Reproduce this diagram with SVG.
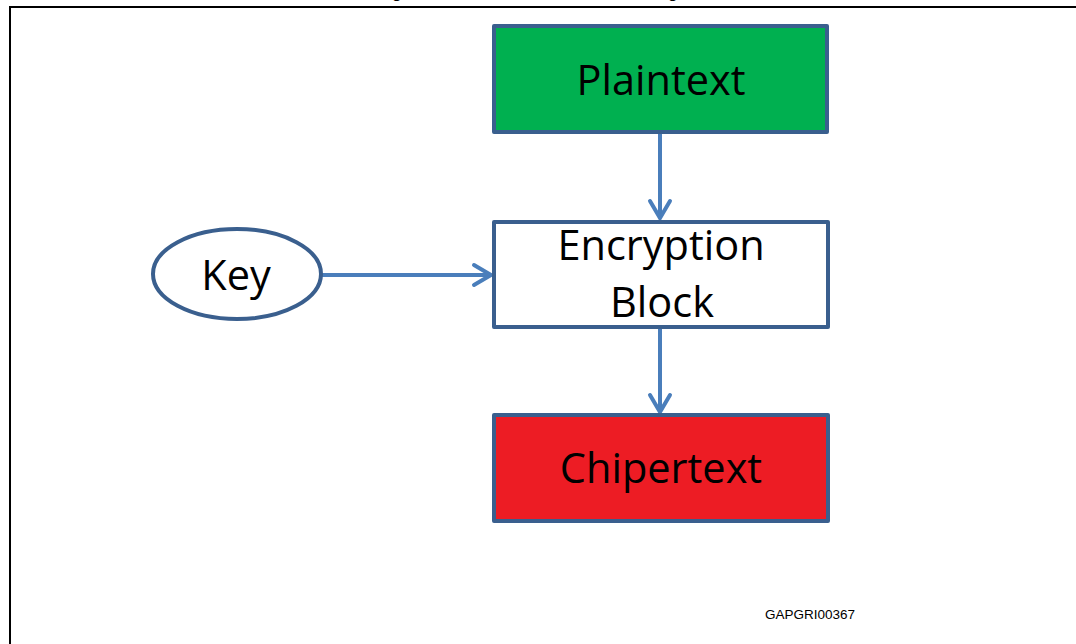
<svg xmlns="http://www.w3.org/2000/svg" width="1076" height="644" viewBox="0 0 1076 644">
  <style>
    .box { stroke: #3A5F8E; stroke-width: 4; stroke-linejoin: round; }
    .label { font-family: "Open Sans", "Liberation Sans", sans-serif; font-size: 41.5px; fill: #000; text-anchor: middle; }
    .wire { stroke: #4A7EBB; stroke-width: 4; fill: none; }
    .head { stroke: #4A7EBB; stroke-width: 4; fill: none; stroke-linecap: round; stroke-linejoin: miter; }
  </style>

  <rect width="1076" height="644" fill="#ffffff"/>

  <!-- frame -->
  <g id="frame">
    <line x1="10" y1="7" x2="1076" y2="7" stroke="#000" stroke-width="2"/>
    <line x1="10" y1="6" x2="10" y2="644" stroke="#000" stroke-width="2"/>
    <text x="397" y="-2" font-family="Liberation Sans, sans-serif" font-weight="bold" font-size="16" text-anchor="middle">g</text>
    <text x="673" y="-2" font-family="Liberation Sans, sans-serif" font-weight="bold" font-size="16" text-anchor="middle">g</text>
  </g>

  <!-- connectors -->
  <g id="connectors">
    <line class="wire" x1="660" y1="134" x2="660" y2="218"/>
    <polyline class="head" points="650,201 660,218 670,201"/>
    <line class="wire" x1="660" y1="329" x2="660" y2="411"/>
    <polyline class="head" points="650,395 660,412 670,395"/>
    <line class="wire" x1="322" y1="275" x2="490" y2="275"/>
    <polyline class="head" points="474,265 491,275 474,285"/>
  </g>

  <g id="plaintext">
    <rect class="box" x="494" y="26" width="333" height="106" fill="#00B050"/>
    <text class="label" x="661" y="95">Plaintext</text>
  </g>

  <g id="encryption">
    <rect class="box" x="494" y="222" width="334" height="105" fill="#ffffff"/>
    <text class="label" x="661" y="260">Encryption</text>
    <text class="label" x="662" y="317">Block</text>
  </g>

  <g id="chipertext">
    <rect class="box" x="494" y="415" width="334" height="106" fill="#ED1C24"/>
    <text class="label" x="661" y="483">Chipertext</text>
  </g>

  <g id="key">
    <ellipse class="box" cx="237" cy="274" rx="84" ry="45" fill="#ffffff"/>
    <text class="label" x="236" y="290">Key</text>
  </g>

  <text x="765" y="619" font-family="Liberation Sans, sans-serif" font-size="13.5" fill="#000">GAPGRI00367</text>
</svg>
